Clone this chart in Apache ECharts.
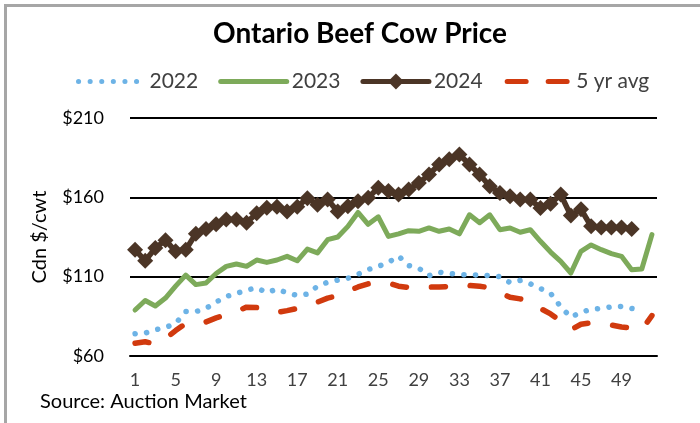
<!DOCTYPE html>
<html>
<head>
<meta charset="utf-8">
<script src="https://cdn.jsdelivr.net/npm/echarts@6/dist/echarts.min.js"></script>
<style>
  html, body { margin: 0; padding: 0; background: #fff; }
  #chart { width: 700px; height: 423px; }
</style>
</head>
<body>
<div id="chart"></div>
<script>
// weeks of the year
const weeks = ['1','2','3','4','5','6','7','8','9','10','11','12','13','14','15','16','17','18','19','20',
  '21','22','23','24','25','26','27','28','29','30','31','32','33','34','35','36','37','38','39','40',
  '41','42','43','44','45','46','47','48','49','50','51','52'];

const y2022 = [74, 74.5, 76.5, 78, 80.5, 88, 88, 90, 94, 97.5, 99.5, 101.5, 103, 100, 102.2, 99.8, 98.2, 99, 104, 106.5,
  107.8, 109, 111.5, 114.5, 116.5, 119, 123, 117, 115.3, 110.6, 112.8, 112, 111.3, 111.2, 111, 110.7, 110.1, 106.3, 107.6, 105.5,
  102.5, 99.5, 91, 84.5, 87.5, 89.5, 90, 91, 91.3, 90, 89.5, null];

const y2023 = [89, 95, 91.5, 96.5, 104, 111, 105, 106, 112, 116.5, 118, 116.5, 120.5, 119, 120.5, 122.8, 120, 127.4, 125, 133.3,
  135, 141.7, 150.5, 143, 147.7, 135.4, 137, 139, 138.6, 140.7, 138.6, 140, 137, 149, 144, 149, 139.6, 140.7, 138, 139.6,
  132.3, 125.5, 119.6, 112.3, 126, 130, 127, 124.5, 122.8, 114.4, 114.8, 136.5];

const y2024 = [127, 120, 128, 133, 126, 127, 137, 140, 143, 146, 146, 144, 150, 153.5, 154, 151, 154, 159.5, 155.4, 158.6,
  151, 154.4, 157.5, 159.7, 166, 164, 161.8, 165, 169, 174.4, 180.7, 184, 187, 180.7, 174.4, 167, 162.8, 160.7, 158.6, 158.6,
  153.3, 156, 161.8, 148.5, 152.5, 141.7, 141, 141, 141, 140, null, null];

const avg5 = [68, 69, 67.5, 71, 76, 80.5, 81, 81.5, 84, 86, 88, 90.8, 90.5, 88.3, 87.5, 88.6, 90, 91.8, 94, 96.5,
  98, 101, 103.5, 105.5, 106.5, 106, 104, 103.2, 103.5, 103.4, 103.5, 103.8, 103, 104.4, 104, 103, 100, 97, 96, 94.3,
  90, 86.5, 82, 76.5, 80, 81, 80.7, 79.5, 78.3, 77.5, 76.5, 85.5];

const yTicks = [60, 110, 160, 210];

const FONT = 'Lato';
const chart = echarts.init(document.getElementById('chart'));

// legend entries without markers for the plain lines
const noMark = { itemStyle: { opacity: 0 } };

chart.setOption({
  animation: false,
  backgroundColor: '#fff',
  title: {
    text: 'Ontario Beef Cow Price',
    left: 208,
    top: 15,
    textStyle: { fontFamily: FONT, fontWeight: 'bold', fontSize: 28, color: '#000' }
  },
  legend: {
    left: 71,
    top: 66,
    itemWidth: 66,
    itemHeight: 20,
    itemGap: 20,
    lineStyle: { width: 5, cap: 'round' },
    textStyle: { fontFamily: FONT, fontSize: 21, color: '#404040' },
    data: [
      Object.assign({ name: '2022' }, noMark),
      Object.assign({ name: '2023' }, noMark),
      { name: '2024' },
      Object.assign({ name: '5 yr avg', lineStyle: { width: 5, cap: 'round', type: [19, 22], dashOffset: -2 } }, noMark)
    ]
  },
  graphic: [{
    type: 'rect',
    shape: { x: 5.5, y: 5.5, width: 720, height: 440 },
    style: { fill: 'none', stroke: '#a6a6a6', lineWidth: 3 },
    silent: true
  }, {
    type: 'text',
    left: 40,
    top: 392,
    style: { text: 'Source: Auction Market', fontFamily: FONT, fontSize: 20, fill: '#000' },
    silent: true
  }],
  grid: { left: 130, right: 43, top: 118, bottom: 67 },
  xAxis: {
    type: 'category',
    data: weeks,
    axisLine: { show: true, lineStyle: { color: '#000', width: 2 } },
    axisTick: { show: false },
    axisLabel: { interval: 3, margin: 15, fontFamily: FONT, fontSize: 18, color: '#404040' }
  },
  yAxis: {
    type: 'value',
    min: yTicks[0],
    max: yTicks[yTicks.length - 1],
    interval: 50,
    name: 'Cdn $/cwt',
    nameLocation: 'middle',
    nameRotate: 90,
    nameGap: 80,
    nameTextStyle: { fontFamily: FONT, fontSize: 20, color: '#000' },
    axisLine: { show: false },
    axisTick: { show: false },
    axisLabel: { margin: 26, fontFamily: FONT, fontSize: 18, color: '#000', formatter: v => '$' + v },
    splitLine: { lineStyle: { color: '#000', width: 2 } }
  },
  series: [
    {
      name: '2022', type: 'line', data: y2022, symbol: 'none',
      lineStyle: { color: '#6db3e6', width: 5.5, type: [0.1, 11.5], cap: 'round' },
      itemStyle: { color: '#6db3e6' }
    },
    {
      name: '2023', type: 'line', data: y2023, symbol: 'none',
      lineStyle: { color: '#7daa5a', width: 5, cap: 'round', join: 'round' },
      itemStyle: { color: '#7daa5a' }
    },
    {
      name: '2024', type: 'line', data: y2024, symbol: 'diamond', symbolSize: 16,
      showAllSymbol: true,
      lineStyle: { color: '#4b3526', width: 5.5 },
      itemStyle: { color: '#4b3526' }
    },
    {
      name: '5 yr avg', type: 'line', data: avg5, symbol: 'none',
      lineStyle: { color: '#d13a0e', width: 5.5, type: [14, 25], cap: 'round', join: 'round' },
      itemStyle: { color: '#d13a0e' }
    }
  ]
});
</script>
</body>
</html>
